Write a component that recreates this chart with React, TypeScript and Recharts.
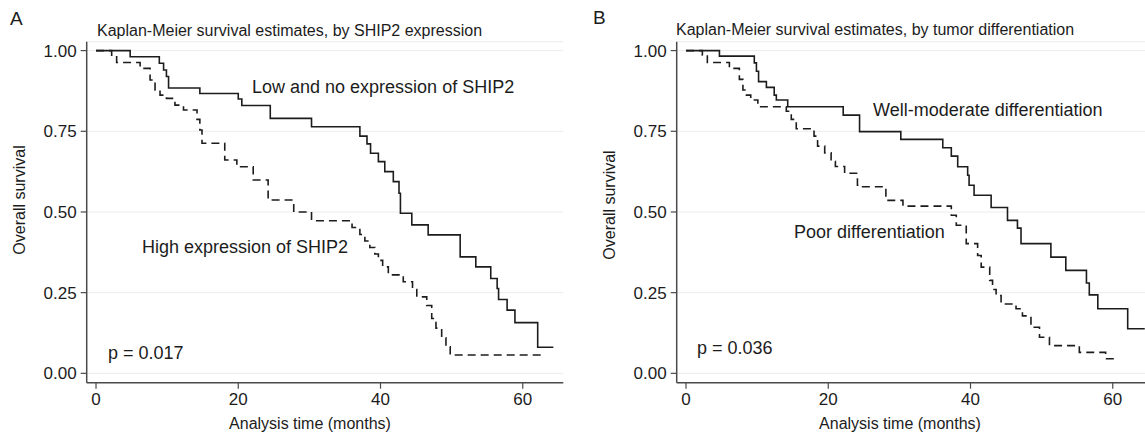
import React from "react";
import { LineChart, Line, XAxis, YAxis, CartesianGrid } from "recharts";

// Panel A: SHIP2 expression
const lowTimes = [0, 4.8, 8.9, 9.5, 9.9, 10.2, 14.6, 20.0, 20.5, 24.5, 30.3, 37.1, 38.1, 38.6, 39.7, 40.6, 41.8, 42.6, 42.8, 44.4, 46.7, 51.2, 53.4, 55.5, 56.4, 56.6, 57.8, 58.9, 62.1, 64.3];
const lowSurv = [1, 0.981, 0.961, 0.94, 0.92, 0.884, 0.867, 0.85, 0.83, 0.79, 0.764, 0.735, 0.711, 0.682, 0.656, 0.625, 0.594, 0.558, 0.496, 0.46, 0.429, 0.361, 0.33, 0.294, 0.263, 0.229, 0.196, 0.157, 0.081, 0.081];

const highTimes = [0, 2.2, 2.9, 6.2, 7.6, 8.3, 9.0, 9.9, 11.1, 12.3, 14.2, 14.6, 14.9, 18.1, 19.8, 22.1, 24.2, 27.8, 30.3, 36.0, 37.1, 37.8, 38.5, 39.2, 39.7, 40.3, 41.1, 43.2, 44.5, 45.1, 46.5, 47.2, 47.8, 48.6, 49.2, 49.8, 62.7];
const highSurv = [1, 0.986, 0.963, 0.945, 0.909, 0.878, 0.862, 0.852, 0.831, 0.816, 0.787, 0.754, 0.713, 0.661, 0.64, 0.599, 0.537, 0.5, 0.473, 0.452, 0.43, 0.41, 0.39, 0.37, 0.35, 0.33, 0.305, 0.284, 0.26, 0.237, 0.21, 0.17, 0.14, 0.11, 0.082, 0.057, 0.057];

// Panel B: tumor differentiation
const wellTimes = [0, 4.7, 9.6, 9.9, 10.2, 11.3, 12.4, 12.7, 14.3, 22.1, 24.4, 30.2, 36.1, 37.3, 38.2, 39.6, 39.8, 40.5, 42.9, 45.2, 46.6, 47.1, 51.3, 53.4, 56.3, 56.7, 57.9, 62.1, 64.5];
const wellSurv = [1, 0.983, 0.962, 0.936, 0.904, 0.886, 0.862, 0.847, 0.826, 0.8, 0.749, 0.725, 0.699, 0.673, 0.64, 0.614, 0.583, 0.552, 0.514, 0.474, 0.45, 0.402, 0.36, 0.319, 0.28, 0.243, 0.2, 0.138, 0.138];

const poorTimes = [0, 2.3, 3.0, 6.1, 7.5, 8.0, 8.5, 9.1, 10.1, 14.1, 14.8, 15.5, 18.0, 18.5, 19.5, 20.4, 21.0, 22.3, 24.1, 24.4, 28.1, 30.5, 37.3, 38.0, 39.4, 41.0, 41.5, 42.7, 43.1, 43.6, 44.3, 46.4, 47.3, 48.5, 49.7, 51.1, 55.3, 59.0, 60.7];
const poorSurv = [1, 0.986, 0.963, 0.945, 0.911, 0.878, 0.862, 0.847, 0.826, 0.812, 0.787, 0.758, 0.735, 0.704, 0.683, 0.657, 0.641, 0.62, 0.583, 0.578, 0.536, 0.518, 0.49, 0.459, 0.402, 0.365, 0.329, 0.288, 0.26, 0.241, 0.215, 0.2, 0.178, 0.143, 0.112, 0.086, 0.065, 0.045, 0.045];

const xTicks = [0, 20, 40, 60];
const yTicks = [0, 0.25, 0.5, 0.75, 1];

const toSeries = (times: number[], surv: number[]) =>
  times.map((t, i) => ({ t, s: surv[i] }));

const FONT = "'Liberation Sans', Arial, Helvetica, sans-serif";
const INK = "#1c1c1c";
const AXIS = "#4a4a4a";

interface PanelProps {
  left: number;
  solid: { t: number; s: number }[];
  dashed: { t: number; s: number }[];
}

function Panel({ left, solid, dashed }: PanelProps) {
  return (
    <div style={{ position: "absolute", left, top: 0 }}>
      <LineChart
        width={572}
        height={436}
        margin={{ top: 41.7, right: 8.7, bottom: 23.3, left: 0 }}
      >
        <CartesianGrid vertical={false} stroke="#ececec" strokeWidth={1} />
        <XAxis
          type="number"
          dataKey="t"
          domain={[-1.31, 65.7]}
          allowDataOverflow
          ticks={xTicks}
          height={30}
          tickSize={6}
          tickMargin={4}
          axisLine={{ stroke: AXIS, strokeWidth: 1.5 }}
          tickLine={{ stroke: AXIS, strokeWidth: 1.2 }}
          tick={{ fontSize: 17, fill: INK, fontFamily: FONT }}
        />
        <YAxis
          type="number"
          domain={[-0.029, 1.0276]}
          allowDataOverflow
          ticks={yTicks}
          width={86.7}
          tickSize={6}
          tickMargin={4}
          tickFormatter={(v: number) => v.toFixed(2)}
          axisLine={{ stroke: AXIS, strokeWidth: 1.5 }}
          tickLine={{ stroke: AXIS, strokeWidth: 1.2 }}
          tick={{ fontSize: 17, fill: INK, fontFamily: FONT }}
        />
        <Line
          data={solid}
          dataKey="s"
          type="stepAfter"
          stroke={INK}
          strokeWidth={1.6}
          dot={false}
          isAnimationActive={false}
        />
        <Line
          data={dashed}
          dataKey="s"
          type="stepAfter"
          stroke={INK}
          strokeWidth={1.6}
          strokeDasharray="8 5"
          dot={false}
          isAnimationActive={false}
        />
      </LineChart>
    </div>
  );
}

export default function App() {
  const txt = { fontFamily: FONT, fill: INK } as const;
  return (
    <div
      style={{
        position: "absolute",
        left: 0,
        top: 0,
        width: 1145,
        height: 436,
        overflow: "hidden",
        background: "#fff",
      }}
    >
      <Panel left={0} solid={toSeries(lowTimes, lowSurv)} dashed={toSeries(highTimes, highSurv)} />
      <Panel left={590} solid={toSeries(wellTimes, wellSurv)} dashed={toSeries(poorTimes, poorSurv)} />
      <svg
        width={1145}
        height={436}
        style={{ position: "absolute", left: 0, top: 0, pointerEvents: "none" }}
      >
        <text x={10} y={25} fontSize={19} {...txt}>A</text>
        <text x={97} y={36} fontSize={16} {...txt}>Kaplan-Meier survival estimates, by SHIP2 expression</text>
        <text x={252} y={93} fontSize={18} {...txt}>Low and no expression of SHIP2</text>
        <text x={142} y={253} fontSize={18} {...txt}>High expression of SHIP2</text>
        <text x={108} y={359} fontSize={18} {...txt}>p = 0.017</text>
        <text x={310} y={429} fontSize={16} textAnchor="middle" {...txt}>Analysis time (months)</text>
        <text x={25} y={200} fontSize={16} textAnchor="middle" transform="rotate(-90 25 200)" {...txt}>Overall survival</text>

        <text x={593} y={24} fontSize={19} {...txt}>B</text>
        <text x={676} y={35} fontSize={16} {...txt}>Kaplan-Meier survival estimates, by tumor differentiation</text>
        <text x={873} y={116} fontSize={18} {...txt}>Well-moderate differentiation</text>
        <text x={794} y={238} fontSize={18} {...txt}>Poor differentiation</text>
        <text x={697} y={354} fontSize={18} {...txt}>p = 0.036</text>
        <text x={900} y={429} fontSize={16} textAnchor="middle" {...txt}>Analysis time (months)</text>
        <text x={615} y={205} fontSize={16} textAnchor="middle" transform="rotate(-90 615 205)" {...txt}>Overall survival</text>
      </svg>
    </div>
  );
}
